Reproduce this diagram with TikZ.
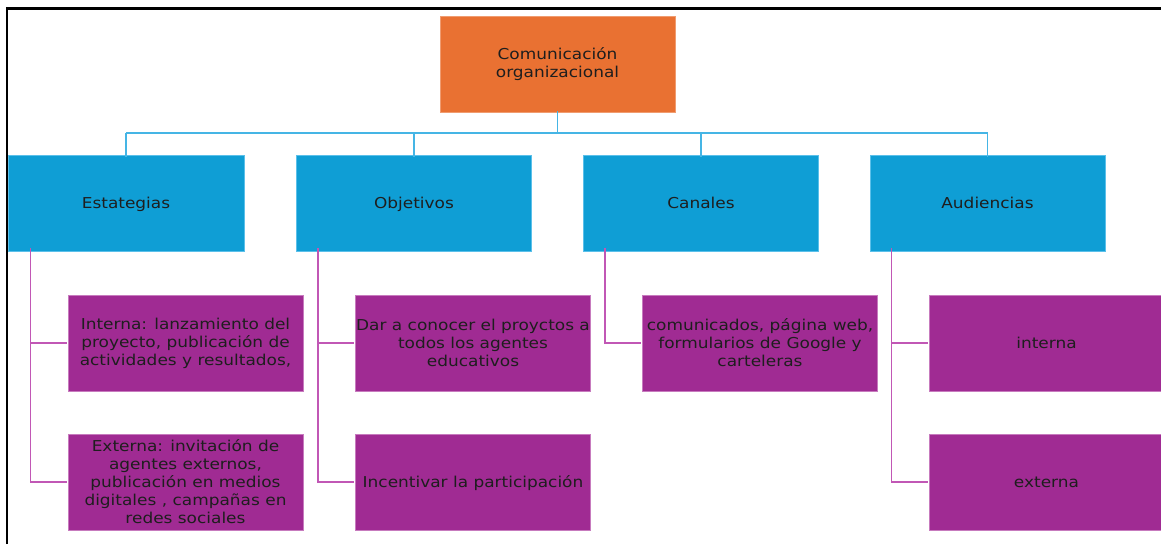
\documentclass[tikz,border=0pt]{standalone}
\usepackage{fontspec}
\setmainfont[FakeStretch=1.13]{DejaVu Sans}
\definecolor{orangebox}{HTML}{E97132}
\definecolor{bluebox}{HTML}{0F9ED5}
\definecolor{blueedge}{HTML}{5BC0EA}
\definecolor{blueline}{HTML}{45B5E5}
\definecolor{purplebox}{HTML}{A02B93}
\definecolor{purpleedge}{HTML}{C77BBE}
\definecolor{purpleline}{HTML}{C157B5}
\definecolor{boxtext}{HTML}{1E1E1E}
\tikzset{
  base/.style={minimum width=235pt, minimum height=96pt, inner sep=0pt, align=center,
    text=boxtext, font=\fontsize{15}{18}\selectfont, line width=0.8pt},
  oneline/.style={text height=11pt, text depth=0pt},
  rootbox/.style={base, fill=orangebox, draw=orangebox!70!white},
  catbox/.style={base, oneline, fill=bluebox, draw=blueedge},
  leafbox/.style={base, fill=purplebox, draw=purpleedge},
  blink/.style={draw=blueline, line width=1.6pt},
  plink/.style={draw=purpleline, line width=1.6pt},
}
\begin{document}
\begin{tikzpicture}[x=1pt,y=-1pt]
\useasboundingbox (0,0) rectangle (1161,544);
\fill[white] (0,0) rectangle (1161,544);
% frame
\draw[line width=2.5pt, black] (7,544) -- (7,8.5) -- (1161,8.5);
% nodes
\node[rootbox] (root) at (557.5,64) {Comunicación\\organizacional};
\node[catbox, minimum width=236pt] (est) at (126,203) {Estategias};
\node[catbox] (obj) at (414,203) {Objetivos};
\node[catbox] (can) at (701,203) {Canales};
\node[catbox] (aud) at (987.5,203) {Audiencias};
\node[leafbox] (est1) at (185.5,343) {Interna: lanzamiento del\\proyecto, publicación de\\actividades y resultados,};
\node[leafbox] (est2) at (185.5,482) {Externa: invitación de\\agentes externos,\\publicación en medios\\digitales , campañas en\\redes sociales};
\node[leafbox] (obj1) at (473,343) {Dar a conocer el proyctos a\\todos los agentes\\educativos};
\node[leafbox, oneline] (obj2) at (473,482) {Incentivar la participación};
\node[leafbox] (can1) at (760,343) {comunicados, página web,\\formularios de Google y\\carteleras};
\node[leafbox, oneline] (aud1) at (1046.5,343) {interna};
\node[leafbox, oneline] (aud2) at (1046.5,482) {externa};
% blue connectors
\coordinate (bar) at (557.5,133);
\draw[blink] ([yshift=1pt]root.south) -- (bar);
\draw[blink] (est.north |- bar) -- ([yshift=-2pt]est.north);
\draw[blink] (aud.north |- bar) -- ([yshift=-2pt]aud.north);
\draw[blink] (est.north |- bar) -- (aud.north |- bar);
\draw[blink] (obj.north |- bar) -- ([yshift=-2pt]obj.north);
\draw[blink] (can.north |- bar) -- ([yshift=-2pt]can.north);
% purple connectors
\draw[plink] ([xshift=23pt,yshift=3pt]est.south west) |- ([xshift=-1pt]est1.west);
\draw[plink] ([xshift=23pt,yshift=3pt]est.south west) |- ([xshift=-1pt]est2.west);
\draw[plink] ([xshift=22pt,yshift=3pt]obj.south west) |- ([xshift=-1pt]obj1.west);
\draw[plink] ([xshift=22pt,yshift=3pt]obj.south west) |- ([xshift=-1pt]obj2.west);
\draw[plink] ([xshift=22pt,yshift=3pt]can.south west) |- ([xshift=-1pt]can1.west);
\draw[plink] ([xshift=22pt,yshift=3pt]aud.south west) |- ([xshift=-1pt]aud1.west);
\draw[plink] ([xshift=22pt,yshift=3pt]aud.south west) |- ([xshift=-1pt]aud2.west);
\end{tikzpicture}
\end{document}
